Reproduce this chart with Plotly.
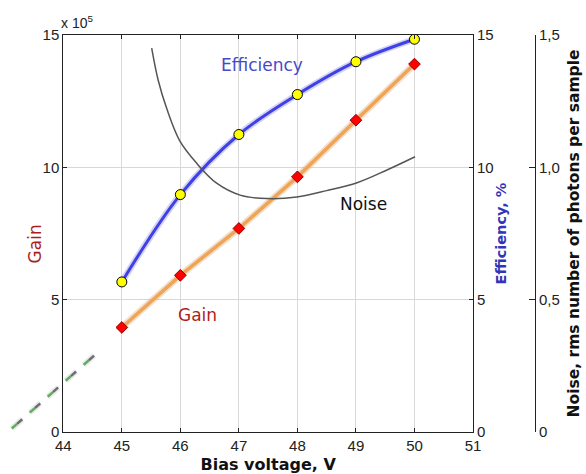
import plotly.graph_objects as go

# ---------------- data ----------------
voltage = [45, 46, 47, 48, 49, 50]
gain = [3.95, 5.92, 7.69, 9.64, 11.78, 13.90]            # x 10^5
efficiency = [5.67, 8.97, 11.24, 12.75, 13.99, 14.84]    # %

noise_v = [45.51, 45.62, 45.77, 45.99, 46.28, 46.62, 47.02, 47.48,
           47.99, 48.50, 49.02, 49.53, 50.01]
noise = [1.45, 1.33, 1.22, 1.10, 1.015, 0.94, 0.895, 0.882,
         0.888, 0.912, 0.942, 0.99, 1.04]

extrap_v = [43.12, 44.63]
extrap_gain = [0.13, 3.09]

x_ticks = [44, 45, 46, 47, 48, 49, 50, 51]
gain_ticks = [0, 5, 10, 15]
eff_ticks = [0, 5, 10, 15]
noise_ticks = [0, 0.5, 1.0, 1.5]
noise_tick_text = ["0", "0,5", "1,0", "1,5"]

# ---------------- layout geometry ----------------
W, H = 586, 474
ML, MR, MT, MB = 5, 51, 35, 42
plot_w = W - ML - MR
x0_px, x1_px = 63.3, 473.0
d0 = (x0_px - ML) / plot_w
d1 = (x1_px - ML) / plot_w
xr = [44, 51]
ext_lo = xr[0] - (xr[1] - xr[0]) * d0 / (d1 - d0)

TICKFONT = dict(family="Liberation Sans", size=15, color="#222")
AXC = "#222"

fig = go.Figure()

# extrapolation (dashed, drawn on an invisible wider overlay subplot)
fig.add_trace(go.Scatter(x=extrap_v, y=extrap_gain, xaxis="x4", yaxis="y4", mode="lines",
                         line=dict(color="rgba(0,0,0,0.08)", width=6, dash="14px,10px"),
                         hoverinfo="skip", showlegend=False))
fig.add_trace(go.Scatter(x=extrap_v, y=extrap_gain, xaxis="x4", yaxis="y4", mode="lines",
                         line=dict(color="#5fae5f", width=2.5, dash="7px,17px"),
                         hoverinfo="skip", showlegend=False))
fig.add_trace(go.Scatter(x=extrap_v, y=extrap_gain, xaxis="x4", yaxis="y4", mode="lines",
                         line=dict(color="#6e6e6e", width=2.5, dash="0px,7px,7px,10px"),
                         hoverinfo="skip", showlegend=False))

# gain
fig.add_trace(go.Scatter(x=voltage, y=gain, mode="lines", line=dict(color="rgba(215,150,90,0.3)", width=7),
                         hoverinfo="skip", showlegend=False))
fig.add_trace(go.Scatter(x=voltage, y=gain, mode="lines", line=dict(color="#f0a455", width=3.5),
                         showlegend=False))
fig.add_trace(go.Scatter(x=voltage, y=gain, mode="markers",
                         marker=dict(symbol="diamond", size=9, color="#ff0000",
                                     line=dict(color="#900000", width=1)),
                         showlegend=False))

# efficiency
fig.add_trace(go.Scatter(x=voltage, y=efficiency, yaxis="y2", mode="lines",
                         line=dict(color="rgba(80,80,220,0.25)", width=6.5, shape="spline"),
                         hoverinfo="skip", showlegend=False))
fig.add_trace(go.Scatter(x=voltage, y=efficiency, yaxis="y2", mode="lines",
                         line=dict(color="#4040e8", width=3, shape="spline"),
                         showlegend=False))
fig.add_trace(go.Scatter(x=voltage, y=efficiency, yaxis="y2", mode="markers",
                         marker=dict(symbol="circle", size=10, color="#ffff00",
                                     line=dict(color="#000", width=1)),
                         showlegend=False))

# noise
fig.add_trace(go.Scatter(x=noise_v, y=noise, yaxis="y3", mode="lines",
                         line=dict(color="#555", width=1.5, shape="spline", smoothing=1.0),
                         showlegend=False))

fig.update_layout(
    width=W, height=H,
    margin=dict(l=ML, r=MR, t=MT, b=MB, autoexpand=False),
    paper_bgcolor="white", plot_bgcolor="rgba(0,0,0,0)",
    showlegend=False,
    xaxis=dict(range=xr, domain=[d0, d1], tickvals=x_ticks, ticks="inside", ticklen=4,
               tickcolor=AXC, showline=True, linecolor=AXC, linewidth=1, mirror="ticks",
               showgrid=True, gridcolor="#d8d8d8", gridwidth=1, zeroline=False,
               tickfont=TICKFONT,
               title=dict(text="<b>Bias voltage, V</b>", standoff=9,
                          font=dict(family="DejaVu Sans", size=16, color="#111"))),
    yaxis=dict(range=[0, 15], tickvals=gain_ticks, ticks="inside", ticklen=4, tickcolor=AXC,
               showline=True, linecolor=AXC, linewidth=1, showgrid=True, gridcolor="#d8d8d8",
               zeroline=False, tickfont=TICKFONT),
    yaxis2=dict(range=[0, 15], tickvals=eff_ticks, overlaying="y", side="right", anchor="x",
                ticks="inside", ticklen=4, tickcolor=AXC, showline=True, linecolor=AXC,
                linewidth=1, showgrid=False, zeroline=False, tickfont=TICKFONT,
                title=dict(text="<b>Efficiency, %</b>", standoff=3,
                           font=dict(family="DejaVu Sans", size=14.5, color="#3434b8"))),
    yaxis3=dict(range=[0, 1.5], tickvals=noise_ticks, ticktext=noise_tick_text,
                overlaying="y", side="right", anchor="free", position=1.0,
                ticks="inside", ticklen=6, tickcolor=AXC, showline=True, linecolor=AXC,
                linewidth=1, showgrid=False, zeroline=False, tickfont=TICKFONT,
                title=dict(text="<b>Noise, rms number of photons per sample</b>", standoff=9,
                           font=dict(family="DejaVu Sans", size=15.5, color="#111"))),
    xaxis4=dict(range=[ext_lo, xr[1]], domain=[0, d1], anchor="y4", visible=False),
    yaxis4=dict(range=[0, 15], domain=[0, 1], anchor="x4", visible=False),
    annotations=[
        dict(text="x 10<sup>5</sup>", xref="x domain", yref="y domain", x=0, y=1,
             xanchor="left", yanchor="bottom", xshift=-4, yshift=2, showarrow=False,
             font=dict(family="Liberation Sans", size=14, color="#222")),
        dict(text="Gain", xref="x domain", yref="y", x=0, y=7.1, xshift=-28,
             xanchor="center", yanchor="middle", textangle=-90, showarrow=False,
             font=dict(family="DejaVu Sans", size=17, color="#aa1e1e")),
        dict(text="Efficiency", xref="x", yref="y", x=47.39, y=13.86, xanchor="center",
             yanchor="middle", showarrow=False,
             font=dict(family="DejaVu Sans", size=17, color="#4848c8")),
        dict(text="Noise", xref="x", yref="y", x=48.69, y=8.63, xanchor="left",
             yanchor="middle", showarrow=False,
             font=dict(family="DejaVu Sans", size=17, color="#111")),
        dict(text="Gain", xref="x", yref="y", x=46.29, y=4.41, xanchor="center",
             yanchor="middle", showarrow=False,
             font=dict(family="DejaVu Sans", size=17, color="#b01c1c")),
    ],
)

fig.write_html("out.html", config={"displayModeBar": False},
               post_script="document.body.style.margin='0';")
